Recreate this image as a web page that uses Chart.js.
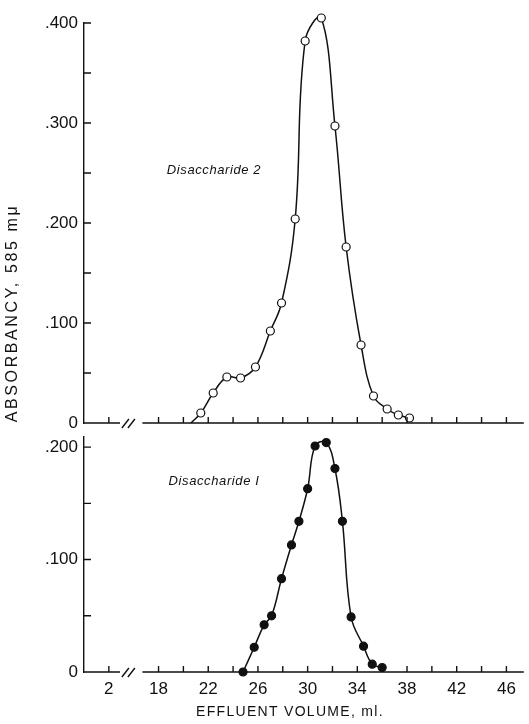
<!DOCTYPE html>
<html>
<head>
<meta charset="utf-8">
<script src="https://cdn.jsdelivr.net/npm/chart.js@4/dist/chart.umd.min.js"></script>
<style>
  html, body { margin: 0; padding: 0; background: #fff; }
  #wrap { position: relative; width: 529px; height: 724px; }
  #wrap canvas { position: absolute; left: 0; top: 0; }
</style>
</head>
<body>
<div id="wrap">
  <canvas id="chart1" width="529" height="724"></canvas>
  <canvas id="chart2" width="529" height="724"></canvas>
</div>
<script>
// effluent volume (ml) / absorbancy at 585 mu
const topVolume = [20.6, 21.4, 22.4, 23.5, 24.6, 25.8, 27.0, 27.9, 29.0, 29.8, 31.1, 32.2, 33.1, 34.3, 35.3, 36.4, 37.3, 38.2];
const topAbsorbancy = [0, .010, .030, .046, .045, .056, .092, .120, .204, .382, .405, .297, .176, .078, .027, .014, .008, .005];

const bottomVolume = [24.8, 25.7, 26.5, 27.1, 27.9, 28.7, 29.3, 30.0, 30.6, 31.5, 32.2, 32.8, 33.5, 34.5, 35.2, 36.0];
const bottomAbsorbancy = [0, .022, .042, .050, .083, .113, .134, .163, .201, .204, .181, .134, .049, .023, .007, .004];

// x axis is broken between 4 and 16 ml
const xTickVolumes = [2, 18, 22, 26, 30, 34, 38, 42, 46];
const xMarkVolumes = [2, 18, 20, 22, 24, 26, 28, 30, 32, 34, 36, 38, 40, 42, 44, 46];
const yTicksTop = [0, .1, .2, .3, .4];
const yTicksBottom = [0, .1, .2];

const BREAK = 12;
function toAxis(ml) { return ml <= 4 ? ml : ml - BREAK; }
function fromAxis(p) { return p <= 4 ? p : p + BREAK; }
function yLabel(v) { return v === 0 ? '0' : '.' + Math.round(v * 1000); }

Chart.defaults.font.family = '"Liberation Sans", Arial, sans-serif';
Chart.defaults.color = '#111';

const paperAxes = {
  id: 'paperAxes',
  afterDraw(chart, args, opts) {
    const { ctx, chartArea: a, scales: { x, y } } = chart;
    const y0 = y.getPixelForValue(0);
    ctx.save();
    ctx.strokeStyle = '#111';
    ctx.lineWidth = 1.4;
    // baseline with the break
    ctx.beginPath();
    ctx.moveTo(a.left, y0);
    ctx.lineTo(x.getPixelForValue(2.9), y0);
    ctx.moveTo(x.getPixelForValue(4.7), y0);
    ctx.lineTo(a.right, y0);
    // break slashes
    const s = x.getPixelForValue(3.05);
    ctx.moveTo(s, y0 + 5); ctx.lineTo(s + 7, y0 - 4);
    ctx.moveTo(s + 6, y0 + 5); ctx.lineTo(s + 13, y0 - 4);
    // inward x ticks
    for (const v of xMarkVolumes) {
      const px = x.getPixelForValue(toAxis(v));
      ctx.moveTo(px, y0); ctx.lineTo(px, y0 - 6);
    }
    // inward y ticks every .050
    for (let v = 0.05; v <= y.max + 1e-6; v += 0.05) {
      const py = y.getPixelForValue(v);
      ctx.moveTo(a.left, py); ctx.lineTo(a.left + 7, py);
    }
    ctx.stroke();

    ctx.fillStyle = '#111';
    ctx.textAlign = 'center';
    ctx.textBaseline = 'middle';
    ctx.font = 'italic 13px "Liberation Sans", Arial, sans-serif';
    ctx.letterSpacing = '0.6px';
    ctx.fillText(opts.label, opts.labelX, opts.labelY);

    if (opts.titles) {
      ctx.font = '14px "Liberation Sans", Arial, sans-serif';
      ctx.letterSpacing = '1.3px';
      ctx.fillText('EFFLUENT VOLUME, ml.', 290, 712);
      ctx.translate(13, 313);
      ctx.rotate(-Math.PI / 2);
      ctx.font = '16px "Liberation Sans", Arial, sans-serif';
      ctx.letterSpacing = '2.6px';
      ctx.fillText('ABSORBANCY, 585 m\u03bc', 0, 0);
    }
    ctx.restore();
  }
};

function makePanel(id, vols, vals, opts) {
  return new Chart(document.getElementById(id), {
    type: 'line',
    data: {
      datasets: [{
        data: vols.map((v, i) => ({ x: toAxis(v), y: vals[i] })),
        borderColor: '#111',
        borderWidth: 1.5,
        tension: 0.4,
        clip: false,
        pointRadius: opts.hideFirst ? (c => c.dataIndex === 0 ? 0 : 4) : 4,
        pointBorderWidth: 1.2,
        pointBorderColor: '#111',
        pointBackgroundColor: opts.filled ? '#111' : '#fff'
      }]
    },
    plugins: [paperAxes],
    options: {
      responsive: false,
      animation: false,
      events: [],
      layout: { padding: opts.padding },
      plugins: {
        legend: { display: false },
        tooltip: { enabled: false },
        paperAxes: opts.deco
      },
      scales: {
        x: {
          type: 'linear',
          min: 0,
          max: 35.4,
          border: { display: false },
          grid: { display: false, drawTicks: false },
          afterFit: sc => { sc.height = opts.xHeight; },
          afterBuildTicks: sc => {
            sc.ticks = xTickVolumes.map(v => ({ value: toAxis(v) }));
          },
          ticks: {
            display: opts.xLabels,
            padding: 7,
            autoSkip: false,
            maxRotation: 0,
            font: { size: 17 },
            callback: v => String(fromAxis(v))
          }
        },
        y: {
          min: 0,
          max: opts.yMax,
          border: { display: true, color: '#111', width: 1.4 },
          grid: { display: false, drawTicks: false },
          afterFit: sc => { sc.width = 84; },
          afterBuildTicks: sc => {
            sc.ticks = opts.yTicks.map(v => ({ value: v }));
          },
          ticks: {
            padding: 6,
            font: { size: 17 },
            callback: v => yLabel(v)
          }
        }
      }
    }
  });
}

makePanel('chart1', topVolume, topAbsorbancy, {
  padding: { top: 23, bottom: 301, left: 0, right: 0 },
  xHeight: 0, xLabels: false, yMax: 0.4, yTicks: yTicksTop,
  hideFirst: true, filled: false,
  deco: { label: 'Disaccharide 2', labelX: 214, labelY: 170, titles: false }
});

makePanel('chart2', bottomVolume, bottomAbsorbancy, {
  padding: { top: 437, bottom: 0, left: 0, right: 0 },
  xHeight: 52, xLabels: true, yMax: 0.209, yTicks: yTicksBottom,
  hideFirst: false, filled: true,
  deco: { label: 'Disaccharide I', labelX: 214, labelY: 481, titles: true }
});
</script>
</body>
</html>
